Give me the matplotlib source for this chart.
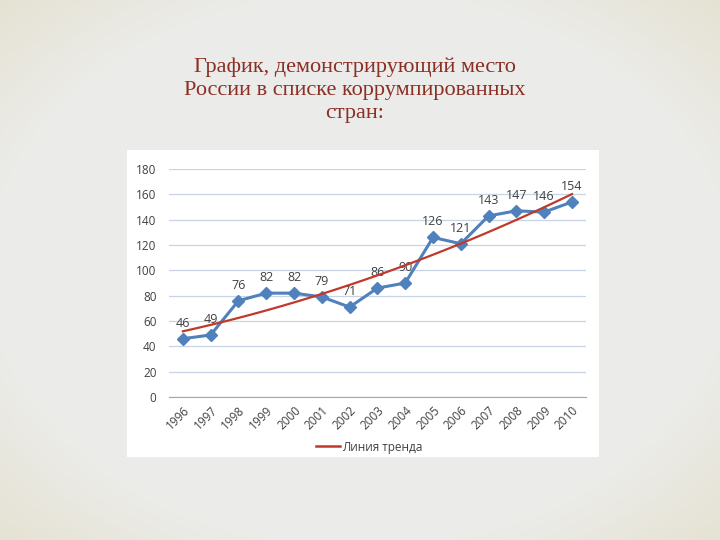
import matplotlib.pyplot as plt
import numpy as np
from matplotlib.patches import Rectangle
from matplotlib.lines import Line2D

# данные: место России в индексе восприятия коррупции
years = ['1996', '1997', '1998', '1999', '2000', '2001', '2002', '2003',
         '2004', '2005', '2006', '2007', '2008', '2009', '2010']
places = [46, 49, 76, 82, 82, 79, 71, 86, 90, 126, 121, 143, 147, 146, 154]

title = 'График, демонстрирующий место\nРоссии в списке коррумпированных\nстран:'

fig = plt.figure(figsize=(7.2, 5.4), dpi=100)

# фон слайда с лёгкой виньеткой
bg = fig.add_axes([0, 0, 1, 1], zorder=-10)
yy, xx = np.mgrid[-1:1:270j, -1:1:360j]
r = np.clip(np.sqrt(xx ** 2 + yy ** 2) - 1.0, 0, None)
base = np.array([0.925, 0.925, 0.918])
warm = np.array([0.90, 0.89, 0.83])
t = np.clip(r / 0.4, 0, 1)[..., None]
bg.imshow(base * (1 - t) + warm * t, aspect='auto', extent=[0, 1, 0, 1])
bg.axis('off')

# белая подложка под графиком
fig.patches.append(Rectangle((0.1764, 0.1537), 0.6556, 0.5685, transform=fig.transFigure,
                             facecolor='white', edgecolor='none', zorder=-5))

fig.text(0.493, 0.833, title, ha='center', va='center', fontsize=16,
         family='Liberation Serif', color='#8B2E24', linespacing=1.27)

ax = fig.add_axes([0.2347, 0.2648, 0.579, 0.4222])
ax.set_facecolor('none')
x = np.arange(len(years))
ax.plot(x, places, color='#4F81BD', lw=2.2, marker='D', ms=6.5, zorder=3)

# полиномиальная линия тренда (2-я степень)
coef = np.polyfit(x, places, 2)
xt = np.linspace(0, len(years) - 1, 100)
ax.plot(xt, np.polyval(coef, xt), color='#C0392B', lw=1.6, zorder=4)

for xi, v in zip(x, places):
    ax.annotate(str(v), (xi, v), xytext=(0, 6.5), textcoords='offset points',
                ha='center', va='bottom', fontsize=9, family='Open Sans', color='#404040')

ax.set_xlim(-0.5, len(years) - 0.5)
ax.set_ylim(0, 180)
ax.set_yticks(range(0, 181, 20))
ax.set_xticks(x)
ax.set_xticklabels(years, rotation=45, ha='right', va='top', rotation_mode='anchor')
ax.tick_params(length=0, labelsize=8.5, labelcolor='#404040')
for lab in ax.get_xticklabels() + ax.get_yticklabels():
    lab.set_family('Open Sans')
ax.tick_params(axis='y', pad=9)
ax.tick_params(axis='x', pad=5)
ax.grid(axis='y', color='#C6D4E6', lw=0.9)
ax.set_axisbelow(True)
for s in ['top', 'right', 'left']:
    ax.spines[s].set_visible(False)
ax.spines['bottom'].set_color('#A6A6A6')

handle = Line2D([], [], color='#C0392B', lw=1.8)
leg = fig.legend([handle], ['Линия тренда'], loc='center', bbox_to_anchor=(0.513, 0.172),
                 frameon=False, handlelength=2.0, handletextpad=0.15,
                 prop={'family': 'Open Sans', 'size': 8.5})
for txt in leg.get_texts():
    txt.set_color('#404040')

fig.savefig('out.png', dpi=100)
